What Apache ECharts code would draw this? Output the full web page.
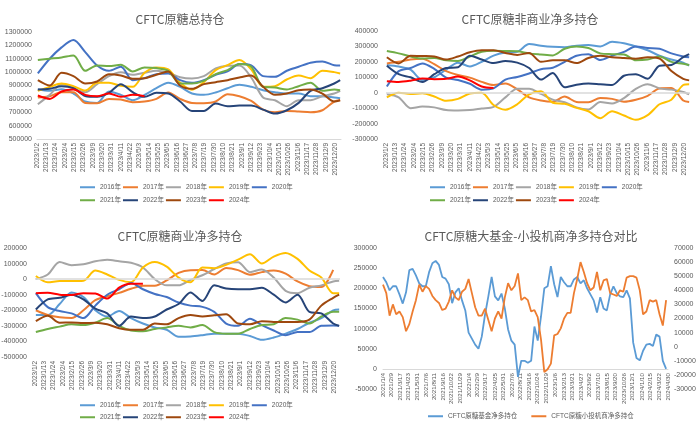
<!DOCTYPE html>
<html>
<head>
<meta charset="utf-8">
<script src="https://cdn.jsdelivr.net/npm/echarts@6.0.0/dist/echarts.min.js"></script>
<style>
html,body{margin:0;padding:0;background:#fff;}
#main{width:700px;height:429px;}
</style>
</head>
<body>
<div id="main"></div>
<script>
// 年份 & 颜色
const years = ['2016年','2017年','2018年','2019年','2020年','2021年','2022年','2023年','2024年'];
const yearColors = ['#5B9BD5','#ED7D31','#A5A5A5','#FFC000','#4472C4','#70AD47','#264478','#9E480E','#FF0000'];

// 2023 年度坐标（双周取点）
const weeks2023 = ['2023/1/3','2023/1/17','2023/1/31','2023/2/14','2023/2/28','2023/3/14','2023/3/28','2023/4/11','2023/4/25','2023/5/9','2023/5/23','2023/6/6','2023/6/20','2023/7/4','2023/7/18','2023/8/1','2023/8/15','2023/8/29','2023/9/12','2023/9/26','2023/10/10','2023/10/24','2023/11/7','2023/11/21','2023/12/5','2023/12/19','2023/12/26'];

// 总持仓
const oi2016 = [870000,860000,872000,840000,780000,770000,855000,830000,790000,830000,880000,920000,890000,840000,830000,848000,880000,905000,890000,865000,850000,840000,840000,820000,820000,810000,805000];
const oi2017 = [810000,820000,850000,850000,770000,768000,800000,795000,775000,780000,800000,848000,800000,770000,768000,780000,835000,820000,785000,720000,700000,710000,705000,700000,715000,780000,790000];
const oi2018 = [760000,830000,910000,878000,850000,910000,970000,1000000,980000,995000,1010000,995000,962000,952000,970000,1028000,1048000,1050000,960000,810000,790000,745000,790000,790000,820000,840000,860000];
const oi2019 = [860000,890000,915000,895000,862000,920000,920000,898000,890000,995000,1035000,1020000,920000,868000,925000,1015000,1052000,1090000,1020000,890000,895000,945000,975000,955000,1010000,1000000,990000];
const oi2020 = [990000,1100000,1185000,1240000,1150000,1050000,1010000,1040000,940000,955000,985000,990000,940000,920000,940000,980000,1005000,1060000,1050000,970000,965000,1010000,1040000,1070000,1080000,1052000,1050000];
const oi2021 = [1090000,1100000,1110000,1125000,1010000,1050000,1045000,1055000,1005000,1035000,1030000,1010000,915000,915000,935000,985000,1015000,1060000,1040000,890000,885000,870000,895000,920000,860000,870000,865000];
const oi2022 = [870000,875000,895000,880000,822000,815000,845000,910000,850000,815000,845000,840000,780000,710000,710000,765000,745000,750000,750000,720000,690000,715000,770000,860000,880000,915000,940000];
const oi2023 = [940000,900000,995000,970000,915000,930000,985000,975000,950000,955000,980000,1005000,900000,875000,910000,925000,940000,960000,975000,890000,830000,840000,865000,870000,840000,780000,790000];
const oi2024 = [825000,800000,855000,870000,830000,820000,840000,815000,830000,820000];

// 非商业净多
const nc2016 = [180000,170000,150000,82000,100000,150000,195000,170000,200000,240000,260000,265000,315000,305000,298000,295000,305000,310000,300000,330000,320000,300000,275000,240000,215000,195000,175000];
const nc2017 = [190000,200000,215000,220000,185000,140000,115000,98000,70000,50000,60000,22000,-30000,-50000,-58000,-25000,-60000,-62000,-35000,-40000,-58000,-45000,-20000,28000,30000,-50000,-60000];
const nc2018 = [-10000,-30000,-100000,-90000,-95000,-112000,-115000,-112000,-102000,-92000,-30000,25000,25000,-8000,-45000,-62000,-95000,-108000,-60000,-70000,-35000,25000,55000,28000,20000,5000,-10000];
const nc2019 = [-30000,0,-8000,-4000,-25000,-52000,-40000,-5000,0,-80000,-110000,-75000,-10000,10000,-65000,-72000,-98000,-120000,-165000,-120000,-148000,-175000,-145000,-75000,-45000,50000,55000];
const nc2020 = [40000,140000,160000,190000,155000,98000,82000,58000,20000,28000,85000,102000,125000,152000,162000,200000,240000,250000,212000,240000,265000,300000,290000,285000,255000,235000,230000];
const nc2021 = [270000,255000,235000,222000,225000,210000,205000,235000,265000,272000,270000,268000,255000,248000,242000,285000,300000,290000,255000,250000,248000,210000,215000,235000,200000,188000,180000];
const nc2022 = [175000,120000,100000,70000,120000,160000,165000,240000,215000,192000,205000,195000,160000,85000,128000,35000,52000,60000,55000,50000,110000,120000,90000,175000,180000,230000,250000];
const nc2023 = [230000,190000,240000,238000,235000,215000,235000,262000,275000,275000,258000,245000,258000,200000,210000,210000,192000,225000,240000,230000,225000,220000,230000,222000,140000,90000,80000];
const nc2024 = [75000,70000,78000,92000,88000,90000,105000,80000,40000,30000];

// 商业净多
const cm2016 = [-230000,-230000,-160000,-85000,-115000,-200000,-240000,-205000,-250000,-285000,-310000,-325000,-370000,-368000,-360000,-350000,-350000,-350000,-365000,-390000,-375000,-350000,-320000,-280000,-250000,-200000,-195000];
const cm2017 = [-200000,-230000,-245000,-250000,-200000,-135000,-110000,-88000,-62000,-42000,-42000,-8000,40000,57000,58000,30000,72000,58000,28000,45000,55000,35000,-15000,-45000,-50000,60000];
const cm2018 = [0,30000,110000,90000,95000,115000,125000,115000,105000,75000,0,-40000,-40000,-5000,25000,65000,100000,108000,45000,62000,10000,-75000,-90000,-55000,-40000,-15000,-10000];
const cm2019 = [20000,-20000,-12000,-12000,-10000,55000,30000,-5000,-20000,75000,110000,80000,10000,-20000,75000,70000,92000,125000,160000,100000,145000,168000,130000,55000,10000,-90000,-90000];
const cm2020 = [-90000,-180000,-205000,-220000,-250000,-170000,-100000,-65000,-25000,-65000,-95000,-115000,-150000,-170000,-178000,-210000,-285000,-300000,-255000,-295000,-330000,-360000,-340000,-340000,-300000,-298000,-300000];
const cm2021 = [-340000,-320000,-305000,-290000,-295000,-280000,-250000,-300000,-330000,-335000,-320000,-310000,-300000,-310000,-295000,-340000,-350000,-350000,-320000,-295000,-290000,-250000,-260000,-285000,-240000,-210000,-210000];
const cm2022 = [-195000,-130000,-120000,-100000,-130000,-190000,-220000,-300000,-240000,-250000,-240000,-195000,-160000,-85000,-140000,-40000,-60000,-65000,-65000,-55000,-100000,-150000,-100000,-210000,-220000,-285000,-300000];
const cm2023 = [-270000,-235000,-280000,-278000,-282000,-280000,-290000,-315000,-325000,-325000,-285000,-290000,-250000,-230000,-240000,-232000,-225000,-285000,-290000,-270000,-275000,-275000,-275000,-260000,-170000,-120000,-100000];
const cm2024 = [-90000,-88000,-100000,-102000,-90000,-92000,-125000,-55000,-30000,-30000];

// 大基金 vs 小投机（2021/1/4 起，双周取点）
const fundNet = [228000,215000,195000,205000,205000,185000,162000,190000,245000,248000,
  232000,212000,205000,205000,240000,262000,268000,258000,228000,224000,
  210000,163000,190000,200000,170000,145000,90000,75000,60000,50000,
  80000,135000,180000,228000,180000,170000,187000,150000,98000,70000,
  60000,-20000,20000,20000,15000,20000,105000,70000,130000,200000,
  205000,255000,210000,178000,228000,215000,205000,205000,222000,228000,
  212000,220000,200000,185000,170000,140000,178000,150000,145000,185000,
  205000,188000,180000,178000,195000,175000,65000,27000,21000,45000,
  60000,62000,57000,85000,80000,20000,0];
const smallNet = [44000,38000,22000,30000,23000,25000,21000,11000,16000,25000,
  33000,44000,39000,43000,41000,36000,33000,31000,26000,27000,
  32000,40000,35000,33000,39000,41000,48000,38000,28000,22000,
  22000,27000,19000,11000,20000,25000,20000,35000,45000,40000,
  43000,52000,33000,35000,33000,25000,26000,21000,5000,-18000,
  -16000,-12000,8000,9000,13000,20000,24000,24000,38000,48000,
  60000,53000,45000,40000,42000,53000,40000,47000,48000,38000,
  37000,36000,40000,39000,49000,50000,50000,49000,40000,23000,
  25000,33000,32000,33000,23000,15000,33000];
const ticks4 = ['2021/1/4','2021/2/9','2021/3/17','2021/4/23','2021/5/31','2021/7/6','2021/8/11','2021/9/16','2021/10/22','2021/11/29','2022/1/4','2022/2/9','2022/3/17','2022/4/25','2022/5/31','2022/7/6','2022/8/11','2022/9/16','2022/10/24','2022/11/29','2023/1/6','2023/2/13','2023/3/21','2023/4/27','2023/6/2','2023/7/10','2023/8/15','2023/9/20','2023/10/26','2023/12/1','2024/1/10','2024/2/15','2024/3/22','2024/4/30'];

const DAY = 86400000;
const fmtDate = t => { const d = new Date(t); return d.getFullYear() + '/' + (d.getMonth() + 1) + '/' + d.getDate(); };
// 按日生成类目轴
const dayList = (from, to) => {
    const out = [];
    for (let t = new Date(from).getTime(); t <= new Date(to).getTime() + 1000; t += DAY) out.push(fmtDate(t));
    return out;
};
const days2023 = dayList('2023/1/2', '2023/12/27');
const days4 = dayList('2021/1/4', '2024/4/30');
const dates4 = [];
for (let t = new Date('2021/1/4').getTime(); dates4.length < fundNet.length; t += 14 * DAY) dates4.push(fmtDate(t));

const txtColor = '#595959';
const fontCJK = '"Noto Sans CJK SC", sans-serif';
const fontNum = '"Liberation Sans", "Noto Sans CJK SC", sans-serif';

function yearSeries(list, idx, zeroLine) {
    return list.map((arr, i) => {
        const s = {
            name: years[i],
            type: 'line',
            xAxisIndex: idx,
            yAxisIndex: idx,
            data: arr.map((v, j) => [weeks2023[j], v]),
            smooth: 0.3,
            symbol: 'none',
            lineStyle: {width: 2, color: yearColors[i]},
            itemStyle: {color: yearColors[i]},
            emphasis: {disabled: true}
        };
        if (zeroLine && i === 0) {
            s.markLine = {
                silent: true,
                symbol: 'none',
                label: {show: false},
                lineStyle: {color: '#D9D9D9', width: 1.5, type: 'solid'},
                data: [{yAxis: 0}]
            };
        }
        return s;
    });
}

function yearXAxis(gridIndex, showLine) {
    return {
        type: 'category',
        gridIndex: gridIndex,
        data: days2023,
        boundaryGap: false,
        axisLine: {show: showLine, onZero: false, lineStyle: {color: '#D9D9D9'}},
        axisTick: {show: false},
        splitLine: {show: false},
        axisLabel: {interval: 10, rotate: 90, fontSize: 6.5, fontFamily: fontNum, color: txtColor, margin: 4}
    };
}

function valueYAxis(gridIndex, min, max, interval, margin, extra) {
    return Object.assign({
        type: 'value',
        gridIndex: gridIndex,
        min: min,
        max: max,
        interval: interval,
        axisLine: {show: false},
        axisTick: {show: false},
        splitLine: {show: false},
        axisLabel: {fontSize: 7, fontFamily: fontNum, color: txtColor, margin: margin, formatter: v => String(v)}
    }, extra || {});
}

function title(text, x, y) {
    return {
        text: text, left: x, top: y, textAlign: 'center',
        textStyle: {fontSize: 12, fontWeight: 'normal', color: txtColor, fontFamily: fontCJK}
    };
}

function legend(data, x, y, gap) {
    return {
        data: data, left: x, top: y, padding: 0,
        icon: 'rect', itemWidth: 15, itemHeight: 2, itemGap: gap,
        textStyle: {fontSize: 6.5, color: txtColor, fontFamily: fontNum}
    };
}

const chart = echarts.init(document.getElementById('main'));
chart.setOption({
    animation: false,
    backgroundColor: '#fff',
    title: [
        title('CFTC原糖总持仓', 175, 8),
        title('CFTC原糖非商业净多持仓', 525, 8),
        title('CFTC原糖商业净多持仓', 175, 225),
        title('CFTC原糖大基金-小投机商净多持仓对比', 526, 225)
    ],
    legend: [
        legend(years.slice(0, 5), 80, 184, 2),
        legend(years.slice(5), 80, 197, 2),
        legend(years.slice(0, 5), 430, 184, 2),
        legend(years.slice(5), 430, 197, 2),
        legend(years.slice(0, 5), 80, 402, 2),
        legend(years.slice(5), 80, 414, 2),
        legend(['CFTC原糖基金净多持仓', 'CFTC原糖小投机商净多持仓'], 428, 413, 14)
    ],
    grid: [
        {left: 37, right: 359, top: 32, bottom: 290, containLabel: false, outerBoundsMode: 'none'},
        {left: 386, right: 10, top: 31, bottom: 290, containLabel: false, outerBoundsMode: 'none'},
        {left: 35, right: 360, top: 248, bottom: 72, containLabel: false, outerBoundsMode: 'none'},
        {left: 383, right: 32, top: 248, bottom: 40, containLabel: false, outerBoundsMode: 'none'}
    ],
    xAxis: [
        yearXAxis(0, true),
        yearXAxis(1, false),
        yearXAxis(2, false),
        {
            // 轴线放在左轴 0 处（-50000~300000 中 0 距底 1/7）
            type: 'category',
            gridIndex: 3,
            data: days4,
            boundaryGap: false,
            offset: -20,
            axisLine: {show: true, onZero: false, lineStyle: {color: '#D9D9D9'}},
            axisTick: {show: false},
            splitLine: {show: false},
            axisLabel: {
                interval: (idx, val) => ticks4.indexOf(val) >= 0,
                rotate: 90, fontSize: 6.2, fontFamily: fontNum, color: txtColor, margin: 4
            }
        }
    ],
    yAxis: [
        valueYAxis(0, 500000, 1300000, 100000, 5),
        valueYAxis(1, -300000, 400000, 100000, 8),
        valueYAxis(2, -500000, 200000, 100000, 8),
        valueYAxis(3, -50000, 300000, 50000, 6),
        valueYAxis(3, -30000, 70000, 10000, 6, {position: 'right'})
    ],
    series: [].concat(
        yearSeries([oi2016, oi2017, oi2018, oi2019, oi2020, oi2021, oi2022, oi2023, oi2024], 0, false),
        yearSeries([nc2016, nc2017, nc2018, nc2019, nc2020, nc2021, nc2022, nc2023, nc2024], 1, true),
        yearSeries([cm2016, cm2017, cm2018, cm2019, cm2020, cm2021, cm2022, cm2023, cm2024], 2, true),
        [
            {
                name: 'CFTC原糖基金净多持仓',
                type: 'line',
                xAxisIndex: 3,
                yAxisIndex: 3,
                data: dates4.map((d, i) => [d, fundNet[i]]),
                symbol: 'none',
                lineStyle: {width: 1.8, color: '#5B9BD5'},
                itemStyle: {color: '#5B9BD5'},
                emphasis: {disabled: true}
            },
            {
                name: 'CFTC原糖小投机商净多持仓',
                type: 'line',
                xAxisIndex: 3,
                yAxisIndex: 4,
                data: dates4.map((d, i) => [d, smallNet[i]]),
                symbol: 'none',
                lineStyle: {width: 1.8, color: '#ED7D31'},
                itemStyle: {color: '#ED7D31'},
                emphasis: {disabled: true}
            }
        ]
    )
});
window.addEventListener('resize', function () {
    chart.resize();
});
</script>
</body>
</html>
